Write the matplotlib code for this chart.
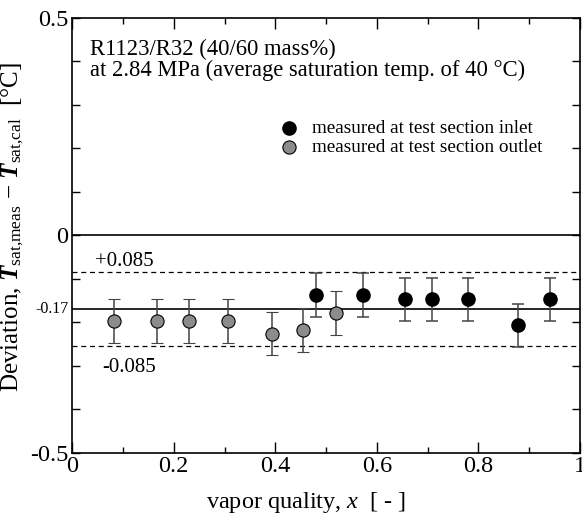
import matplotlib
matplotlib.use("Agg")
import matplotlib.pyplot as plt
from matplotlib.ticker import MultipleLocator, FixedLocator

plt.rcParams['font.family'] = ['Liberation Serif', 'DejaVu Serif']
plt.rcParams['mathtext.fontset'] = 'custom'
plt.rcParams['mathtext.rm'] = 'Liberation Serif'
plt.rcParams['mathtext.it'] = 'Liberation Serif:italic'
plt.rcParams['mathtext.bf'] = 'Liberation Serif:bold'
plt.rcParams['mathtext.bfit'] = 'Liberation Serif:italic:bold'

# data
x_out = [0.083, 0.167, 0.230, 0.307, 0.393, 0.455, 0.519]
y_out = [-0.197, -0.197, -0.197, -0.197, -0.226, -0.217, -0.178]
x_in = [0.481, 0.572, 0.655, 0.709, 0.779, 0.878, 0.940]
y_in = [-0.137, -0.137, -0.147, -0.147, -0.147, -0.207, -0.147]
err = 0.05
mean_dev = -0.17
band = 0.085

fig = plt.figure(figsize=(5.82, 5.23), dpi=100)
ax = fig.add_axes([0.124, 0.134, 0.8726, 0.8316])

ax.axhline(0, color='k', lw=1.2)
ax.axhline(mean_dev, color='k', lw=1.2)
ax.axhline(mean_dev + band, color='k', lw=0.9, ls=(0, (4, 3)))
ax.axhline(mean_dev - band, color='k', lw=0.9, ls=(0, (4, 3)))

ax.errorbar(x_out, y_out, yerr=err, fmt='o', ms=9.5, mfc='#8c8c8c', mec='k',
            mew=0.8, ecolor='#444444', elinewidth=1.1, capsize=4.5, capthick=1.1,
            zorder=3)
ax.errorbar(x_in, y_in, yerr=err, fmt='o', ms=9.5, mfc='k', mec='k',
            ecolor='#444444', elinewidth=1.1, capsize=4.5, capthick=1.1,
            zorder=3)

# legend
ax.plot([0.426], [0.247], 'o', ms=9.5, mfc='k', mec='k')
ax.plot([0.426], [0.203], 'o', ms=9.5, mfc='#8c8c8c', mec='k', mew=0.8)
ax.text(0.473, 0.247, 'measured at test section inlet', fontsize=13.8,
        va='center', ha='left')
ax.text(0.473, 0.203, 'measured at test section outlet', fontsize=13.8,
        va='center', ha='left')

ax.text(0.035, 0.452, 'R1123/R32 (40/60 mass%)\nat 2.84 MPa (average saturation temp. of 40 °C)',
        fontsize=16.3, va='top', ha='left', linespacing=1.0)
ax.text(0.044, -0.061, '+0.085', fontsize=15, va='center', ha='left')
ax.text(0.059, -0.303, '-0.085', fontsize=15, va='center', ha='left')

ax.set_xlim(0, 1)
ax.set_ylim(-0.5, 0.5)
ax.set_xticks([0, 0.2, 0.4, 0.6, 0.8, 1.0])
ax.set_xticklabels(['0', '0.2', '0.4', '0.6', '0.8', '1'])
ax.xaxis.set_minor_locator(MultipleLocator(0.1))
ax.set_yticks([-0.5, 0, 0.5])
ax.set_yticklabels(['-0.5', '0', '0.5'])
ax.yaxis.set_minor_locator(FixedLocator([-0.4, -0.3, -0.2, -0.1, 0.1, 0.2, 0.3, 0.4]))
ax.tick_params(which='both', direction='in', top=True, right=True,
               labelsize=17.5, width=1)
ax.tick_params(axis='x', which='major', length=8, pad=2)
ax.tick_params(axis='x', which='minor', length=4.5)
ax.tick_params(axis='y', which='major', length=6, pad=3)
ax.tick_params(axis='y', which='minor', length=5.5)
ax.text(-0.006, mean_dev, '-0.17', fontsize=11.5, ha='right', va='center',
        transform=ax.get_yaxis_transform())
for s in ax.spines.values():
    s.set_linewidth(1.2)

ax.set_xlabel('vapor quality, $x$  [ - ]', fontsize=17.5)
ax.xaxis.set_label_coords(0.46, -0.085)
ax.set_ylabel(r'Deviation, $\mathbfit{T}_\mathrm{sat{,}meas}$ $-$ $\mathbfit{T}_\mathrm{sat{,}cal}$  [°C]',
              fontsize=18)
ax.yaxis.set_label_coords(-0.09, 0.52)

fig.savefig('out.png', dpi=100)
